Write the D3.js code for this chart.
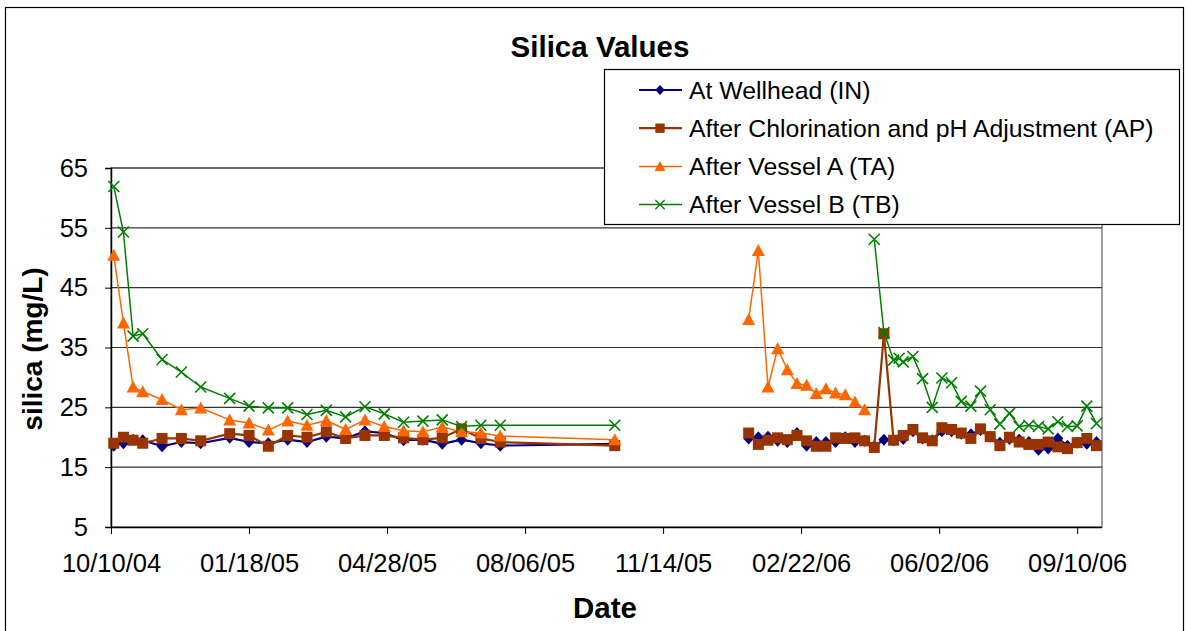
<!DOCTYPE html>
<html>
<head>
<meta charset="utf-8">
<script src="https://cdn.jsdelivr.net/npm/d3@7"></script>
<style>
  html, body { margin: 0; padding: 0; background: #fff; }
  svg { display: block; font-family: "Liberation Sans", Arial, Helvetica, sans-serif; }
</style>
</head>
<body>
<svg id="chart" width="1187" height="631"></svg>
<script>
// ---- Sampling dates (first and second monitoring periods) ----
const datesA = [
  "2004-10-12","2004-10-19","2004-10-26","2004-11-02","2004-11-16","2004-11-30",
  "2004-12-14","2005-01-04","2005-01-18","2005-02-01","2005-02-15","2005-03-01",
  "2005-03-15","2005-03-29","2005-04-12","2005-04-26","2005-05-10","2005-05-24",
  "2005-06-07","2005-06-21","2005-07-05","2005-07-19","2005-10-10"
];
const datesB = [
  "2006-01-15","2006-01-22","2006-01-29","2006-02-05","2006-02-12","2006-02-19",
  "2006-02-26","2006-03-05","2006-03-12","2006-03-19","2006-03-26","2006-04-02",
  "2006-04-09","2006-04-16","2006-04-23","2006-04-30","2006-05-04","2006-05-07",
  "2006-05-14","2006-05-21","2006-05-28","2006-06-04","2006-06-11","2006-06-18",
  "2006-06-25","2006-07-02","2006-07-09","2006-07-16","2006-07-23","2006-07-30",
  "2006-08-06","2006-08-13","2006-08-20","2006-08-27","2006-09-03","2006-09-10",
  "2006-09-17","2006-09-24"
];

// ---- Silica (mg/L) by sampling point; null = not sampled ----
const inA = [18.6,19.0,19.6,19.5,18.5,19.2,19.0,19.9,19.2,19.0,19.6,19.2,
             20.1,19.8,21.0,20.7,19.5,19.6,18.9,19.6,19.0,18.6,18.9];
const apA = [19.0,20.0,19.5,19.0,19.8,19.8,19.4,20.6,20.3,18.5,20.3,20.0,
             20.9,19.8,20.3,20.3,19.9,19.6,19.9,21.4,19.8,19.2,18.6];
const taA = [50.4,39.1,28.4,27.6,26.3,24.6,24.9,22.9,22.4,21.2,22.7,22.0,
             22.8,21.3,22.9,21.8,21.1,20.9,21.7,20.9,20.7,20.2,19.6];
const tbA = [61.9,54.3,36.9,37.3,33.0,30.9,28.4,26.5,25.2,24.9,24.9,23.8,
             24.5,23.4,25.1,23.9,22.5,22.7,22.9,21.8,22.0,22.0,22.0];

const inB = [19.8,20.0,20.1,19.4,19.2,20.7,18.6,19.2,19.2,19.2,20.0,19.2,
             19.4,18.5,19.6,19.5,null,19.7,21.0,19.8,19.5,21.0,21.0,20.6,
             20.5,21.2,20.1,19.1,19.7,19.6,19.2,17.9,18.1,19.8,18.6,19.1,
             18.9,19.2];
const apB = [20.7,18.8,19.5,19.9,19.6,20.3,19.4,18.5,18.5,19.9,19.8,19.9,
             19.4,18.3,37.3,19.5,null,20.3,21.3,19.9,19.4,21.6,21.3,20.7,
             19.8,21.4,20.1,18.6,20.0,19.2,18.8,18.8,19.2,18.4,18.1,19.1,
             19.8,18.6];
const taB = [39.7,51.2,28.4,34.8,31.3,29.0,28.7,27.3,28.1,27.4,27.1,25.9,
             24.6,null,null,null,null,null,null,null,null,null,null,null,
             null,null,null,null,null,null,null,null,null,null,null,null,
             null,null];
const tbB = [null,null,null,null,null,null,null,null,null,null,null,null,
             null,53.1,37.5,32.9,33.2,32.6,33.5,29.8,25.0,29.9,29.1,26.0,
             25.2,27.7,24.6,22.2,24.0,21.8,22.0,21.8,21.4,22.6,21.8,21.9,
             25.2,22.3];

// ---- Axes ----
const yTicks = [5, 15, 25, 35, 45, 55, 65];
const xTickDates = ["2004-10-10","2005-01-18","2005-04-28","2005-08-06",
                    "2005-11-14","2006-02-22","2006-06-02","2006-09-10"];
const xDomain = ["2004-10-10", "2006-09-28"];

const seriesNames = [
  "At Wellhead (IN)",
  "After Chlorination and pH Adjustment (AP)",
  "After Vessel A (TA)",
  "After Vessel B (TB)"
];

// ---- Build ----
const parse = d3.utcParse("%Y-%m-%d");
const fmt = d3.utcFormat("%m/%d/%y");
const svg = d3.select("#chart");

const plot = { left: 111, right: 1102, top: 168, bottom: 527 };
const x = d3.scaleUtc().domain(xDomain.map(parse)).range([plot.left, plot.right]);
const y = d3.scaleLinear().domain([5, 65]).range([plot.bottom, plot.top]);

// outer chart frame
svg.append("rect")
  .attr("x", 5.5).attr("y", 7.5).attr("width", 1178).attr("height", 640)
  .attr("fill", "#fff").attr("stroke", "#000").attr("stroke-width", 1.2);

// plot area frame
svg.append("rect")
  .attr("x", plot.left).attr("y", plot.top)
  .attr("width", plot.right - plot.left).attr("height", plot.bottom - plot.top)
  .attr("fill", "#fff").attr("stroke", "#808080").attr("stroke-width", 1.5);

// horizontal gridlines
svg.append("g").selectAll("line").data(yTicks.filter(v => v > 5)).join("line")
  .attr("x1", plot.left).attr("x2", plot.right)
  .attr("y1", d => y(d)).attr("y2", d => y(d))
  .attr("stroke", "#333").attr("stroke-width", 1.2);

// y axis
const yAxis = svg.append("g")
  .attr("transform", `translate(${plot.left},0)`)
  .call(d3.axisLeft(y).tickValues(yTicks).tickSize(6).tickPadding(17).tickFormat(d3.format("d")));
yAxis.select(".domain").attr("stroke", "#000").attr("stroke-width", 1.5);
yAxis.selectAll(".tick line").attr("stroke", "#000");
yAxis.selectAll(".tick text")
  .attr("font-family", "Liberation Sans, Arial, sans-serif")
  .attr("font-size", 25.5).attr("fill", "#000");

// x axis
const xAxis = svg.append("g")
  .attr("transform", `translate(0,${plot.bottom})`)
  .call(d3.axisBottom(x).tickValues(xTickDates.map(parse)).tickSize(7).tickPadding(20).tickFormat(fmt));
xAxis.select(".domain").attr("stroke", "#000").attr("stroke-width", 1.5)
  .attr("d", `M${plot.left},0.5H${plot.right}`);
xAxis.selectAll(".tick line").attr("stroke", "#000");
xAxis.selectAll(".tick text")
  .attr("font-family", "Liberation Sans, Arial, sans-serif")
  .attr("font-size", 25.5).attr("fill", "#000");

// ---- Series ----
const series = [
  { name: seriesNames[0], color: "#000080", width: 2.2, marker: "diamond", periods: [inA, inB] },
  { name: seriesNames[1], color: "#993300", width: 2.2, marker: "square",  periods: [apA, apB] },
  { name: seriesNames[2], color: "#FF6600", width: 1.5, marker: "triangle", periods: [taA, taB] },
  { name: seriesNames[3], color: "#008000", width: 1.5, marker: "x",        periods: [tbA, tbB] }
];
const periodDates = [datesA, datesB];

function drawMarker(g, type, color) {
  if (type === "diamond") {
    g.append("path").attr("d", "M0,-6L5.5,0L0,6L-5.5,0Z").attr("fill", color);
  } else if (type === "square") {
    g.append("rect").attr("x", -5.5).attr("y", -5.5).attr("width", 11).attr("height", 11).attr("fill", color);
  } else if (type === "triangle") {
    g.append("path").attr("d", "M0,-6.5L6.5,5.5L-6.5,5.5Z").attr("fill", color);
  } else {
    g.append("path").attr("d", "M-5.5,-5.5L5.5,5.5M-5.5,5.5L5.5,-5.5")
      .attr("stroke", color).attr("stroke-width", 1.6).attr("fill", "none");
  }
}

const line = d3.line().x(d => x(d.date)).y(d => y(d.value));

series.forEach(s => {
  const g = svg.append("g");
  s.periods.forEach((vals, pi) => {
    const pts = vals.map((v, i) => ({ date: parse(periodDates[pi][i]), value: v }))
                    .filter(d => d.value !== null);
    g.append("path").datum(pts).attr("d", line)
      .attr("fill", "none").attr("stroke", s.color).attr("stroke-width", s.width)
      .attr("stroke-linejoin", "round");
    g.selectAll(null).data(pts).join("g")
      .attr("transform", d => `translate(${x(d.date)},${y(d.value)})`)
      .each(function () { drawMarker(d3.select(this), s.marker, s.color); });
  });
});

// ---- Titles ----
svg.append("text").attr("x", 600).attr("y", 57).attr("text-anchor", "middle")
  .attr("font-size", 29.5).attr("font-weight", "bold").text("Silica Values");
svg.append("text").attr("x", 605).attr("y", 618).attr("text-anchor", "middle")
  .attr("font-size", 29.5).attr("font-weight", "bold").text("Date");
svg.append("text").attr("transform", "translate(42,349) rotate(-90)").attr("text-anchor", "middle")
  .attr("font-size", 28).attr("font-weight", "bold").text("silica (mg/L)");

// ---- Legend ----
const legend = svg.append("g");
legend.append("rect").attr("x", 604.5).attr("y", 69.5).attr("width", 575).attr("height", 155)
  .attr("fill", "#fff").attr("stroke", "#000").attr("stroke-width", 1.2);
series.forEach((s, i) => {
  const cy = 90 + i * 38.2;
  const row = legend.append("g");
  row.append("line").attr("x1", 639).attr("x2", 682).attr("y1", cy).attr("y2", cy)
    .attr("stroke", s.color).attr("stroke-width", s.width);
  const m = row.append("g").attr("transform", `translate(660,${cy}) scale(0.85)`);
  drawMarker(m, s.marker, s.color);
  row.append("text").attr("x", 689).attr("y", cy + 8.5)
    .attr("font-size", 24.8).attr("fill", "#000").text(s.name);
});
</script>
</body>
</html>
